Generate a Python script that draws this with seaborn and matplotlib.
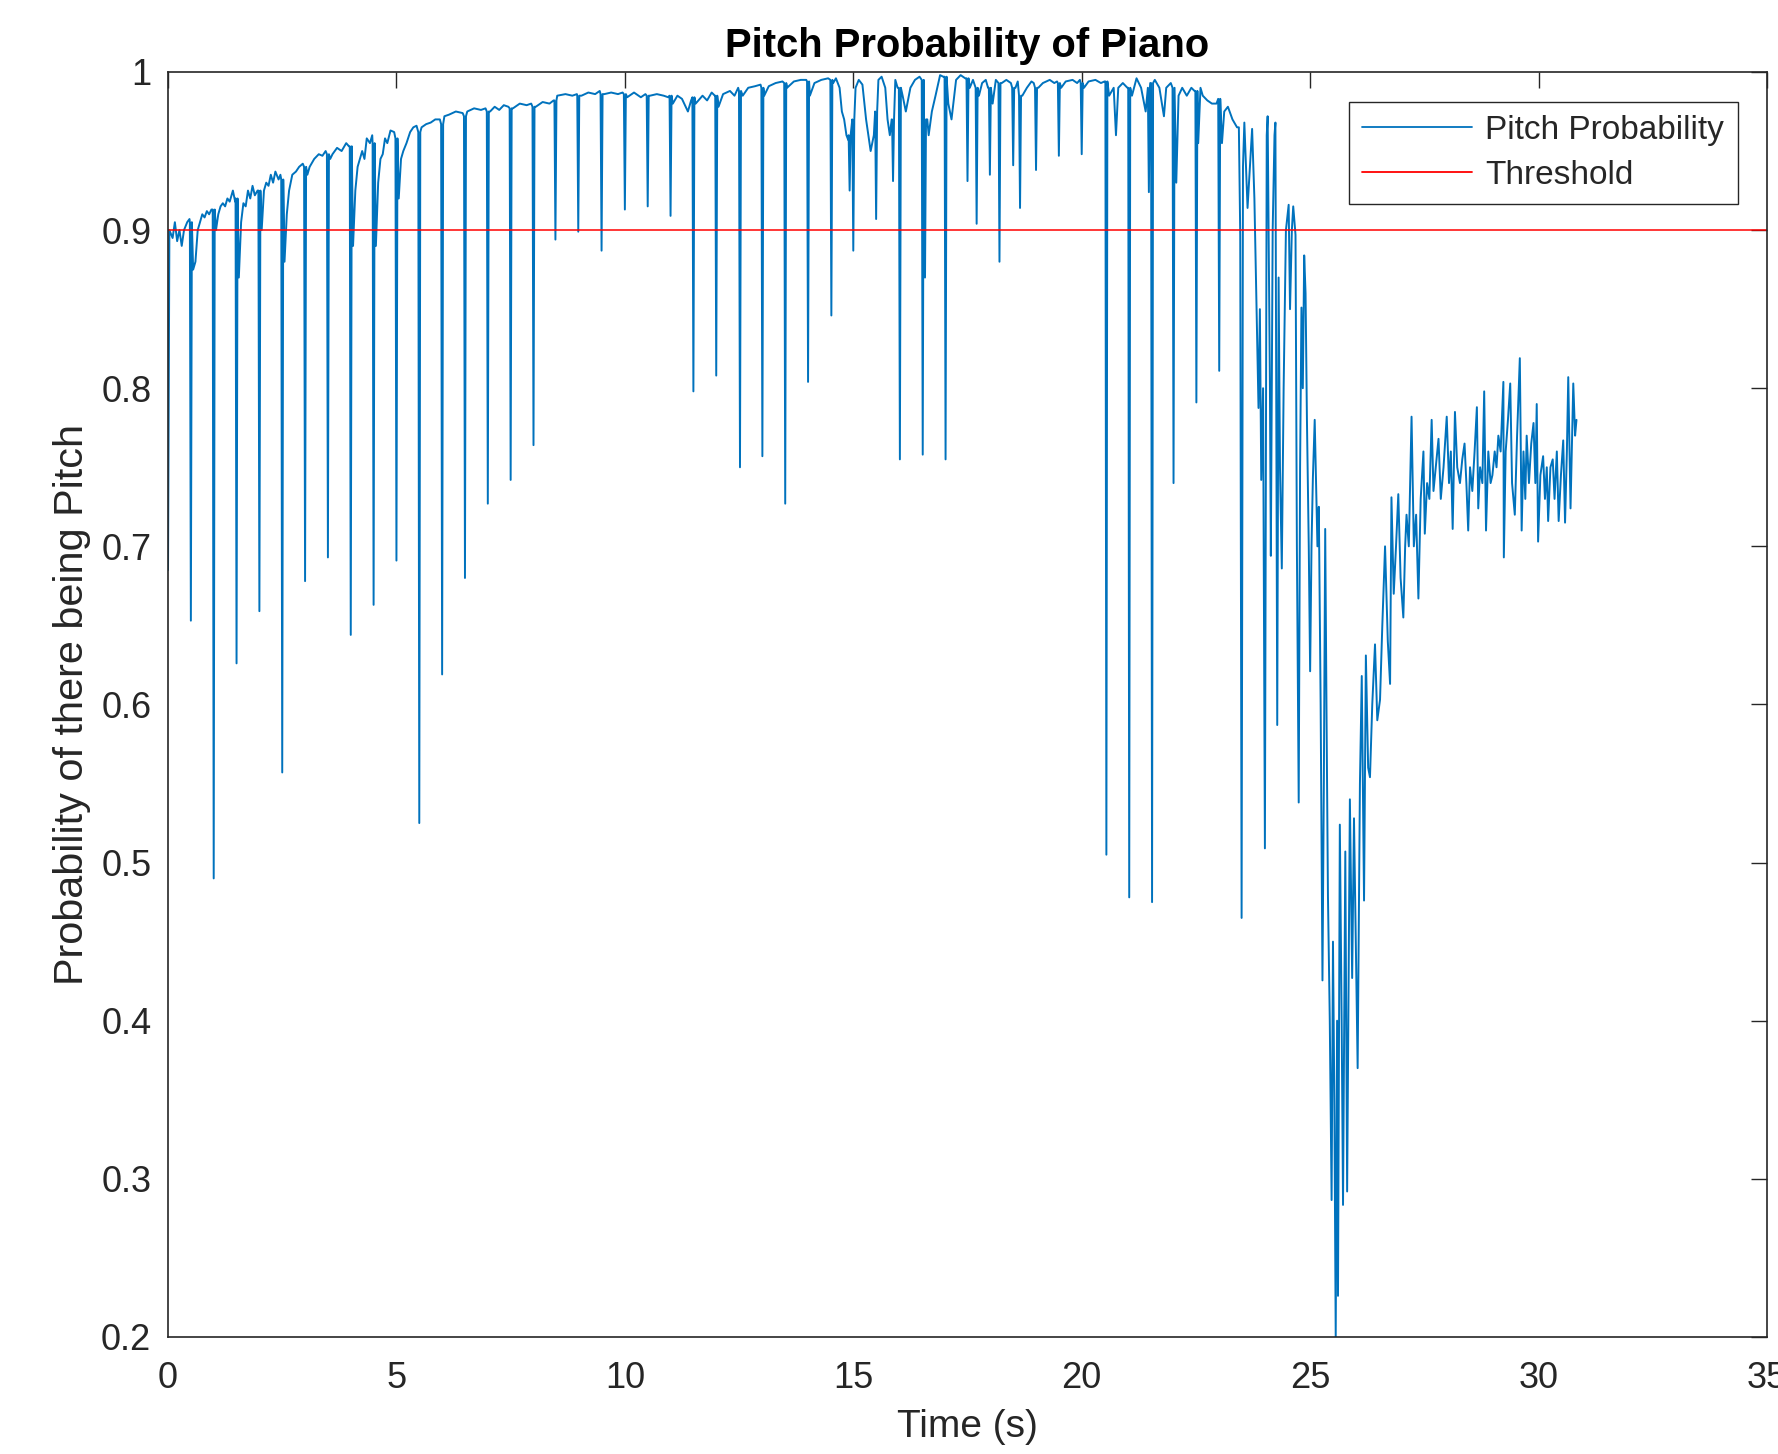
import numpy as np
import pandas as pd
import matplotlib
matplotlib.use("Agg")
import matplotlib.pyplot as plt
import seaborn as sns

# ---------------- data ----------------
# smooth "voiced" envelope (time in s, probability)
base_time = [
    0.0, 0.03, 0.1, 0.15, 0.2, 0.25, 0.3, 0.35, 0.42, 0.47,
    0.55, 0.6, 0.65, 0.7, 0.75, 0.8, 0.85, 0.9, 0.95,
    1.05, 1.1, 1.15, 1.2, 1.25, 1.3, 1.35, 1.42, 1.47,
    1.55, 1.6, 1.65, 1.7, 1.75, 1.8, 1.85, 1.9, 1.96,
    2.05, 2.1, 2.15, 2.2, 2.25, 2.3, 2.35, 2.42, 2.46,
    2.55, 2.6, 2.65, 2.72, 2.8, 2.87, 2.95,
    3.05, 3.1, 3.2, 3.3, 3.38, 3.45,
    3.55, 3.6, 3.7, 3.8, 3.9, 3.96,
    4.05, 4.1, 4.15, 4.25, 4.3, 4.35, 4.42, 4.47,
    4.55, 4.6, 4.65, 4.7, 4.75, 4.8, 4.87, 4.95,
    5.05, 5.1, 5.15, 5.22, 5.3, 5.37, 5.44,
    5.55, 5.65, 5.75, 5.85, 5.95,
    6.05, 6.15, 6.3, 6.45,
    6.55, 6.7, 6.85, 6.95,
    7.05, 7.15, 7.25, 7.35, 7.45,
    7.55, 7.7, 7.85, 7.95,
    8.05, 8.2, 8.35, 8.44,
    8.52, 8.7, 8.85, 8.95,
    9.05, 9.2, 9.35, 9.45,
    9.55, 9.7, 9.85, 9.95,
    10.05, 10.2, 10.35, 10.45,
    10.55, 10.7, 10.85, 10.95,
    11.05, 11.15, 11.25, 11.38, 11.45,
    11.55, 11.7, 11.8, 11.9, 11.97,
    12.05, 12.15, 12.3, 12.4, 12.48,
    12.58, 12.7, 12.85, 12.97,
    13.05, 13.15, 13.3, 13.45,
    13.55, 13.7, 13.85, 13.97,
    14.05, 14.15, 14.3, 14.45,
    14.56, 14.62, 14.7, 14.75, 14.8, 14.85, 14.89,
    15.05, 15.12, 15.2, 15.28, 15.33, 15.38, 15.45, 15.55, 15.62, 15.7, 15.75, 15.8, 15.84, 15.92, 15.97,
    16.08, 16.15, 16.25, 16.35, 16.45,
    16.62, 16.65, 16.72, 16.8, 16.9, 16.97,
    17.08, 17.15, 17.25, 17.35, 17.45,
    17.55, 17.62, 17.75, 17.82, 17.9, 17.95,
    18.05, 18.12, 18.25, 18.35, 18.45,
    18.55, 18.6, 18.7, 18.8, 18.9, 18.95,
    19.05, 19.15, 19.3, 19.4, 19.46,
    19.55, 19.65, 19.8, 19.9, 19.96,
    20.05, 20.15, 20.3, 20.42, 20.5,
    20.6, 20.7, 20.75, 20.8, 20.9, 21.0,
    21.1, 21.2, 21.3, 21.4, 21.5,
    21.6, 21.7, 21.8, 21.85, 21.95,
    22.07, 22.12, 22.2, 22.3, 22.4, 22.47,
    22.55, 22.6, 22.65, 22.75, 22.85, 22.95,
    23.07, 23.12, 23.2, 23.3, 23.4,
]
base_prob = [
    0.685, 0.90, 0.895, 0.905, 0.893, 0.90, 0.89, 0.90, 0.905, 0.907,
    0.875, 0.88, 0.90, 0.905, 0.91, 0.908, 0.912, 0.91, 0.913,
    0.90, 0.91, 0.915, 0.917, 0.915, 0.92, 0.918, 0.925, 0.918,
    0.87, 0.905, 0.917, 0.915, 0.925, 0.92, 0.928, 0.922, 0.925,
    0.90, 0.925, 0.93, 0.928, 0.935, 0.93, 0.937, 0.932, 0.935,
    0.88, 0.91, 0.925, 0.935, 0.937, 0.94, 0.942,
    0.935, 0.94, 0.945, 0.948, 0.947, 0.95,
    0.945, 0.948, 0.952, 0.95, 0.955, 0.953,
    0.89, 0.925, 0.94, 0.95, 0.945, 0.958, 0.955, 0.96,
    0.89, 0.93, 0.945, 0.948, 0.958, 0.955, 0.963, 0.962,
    0.92, 0.945, 0.95, 0.955, 0.962, 0.965, 0.966,
    0.965, 0.967, 0.968, 0.97, 0.97,
    0.972, 0.973, 0.975, 0.974,
    0.975, 0.977, 0.976, 0.977,
    0.975, 0.978, 0.976, 0.979, 0.978,
    0.977, 0.98, 0.979, 0.98,
    0.978, 0.981, 0.98, 0.982,
    0.985, 0.986, 0.985, 0.986,
    0.985, 0.987, 0.986, 0.988,
    0.986, 0.987, 0.986, 0.987,
    0.984, 0.987, 0.984, 0.986,
    0.985, 0.986, 0.985, 0.984,
    0.98, 0.985, 0.983, 0.975, 0.982,
    0.98, 0.985, 0.982, 0.987, 0.985,
    0.978, 0.986, 0.988, 0.985, 0.99,
    0.985, 0.99, 0.991, 0.992,
    0.985, 0.991, 0.993, 0.994,
    0.99, 0.994, 0.995, 0.995,
    0.985, 0.993, 0.995, 0.996,
    0.993, 0.996, 0.99, 0.975, 0.97, 0.96, 0.957,
    0.99, 0.995, 0.992, 0.97, 0.96, 0.95, 0.96, 0.995, 0.997, 0.99, 0.97, 0.96, 0.97, 0.995, 0.99,
    0.985, 0.975, 0.99, 0.995, 0.997,
    0.97, 0.96, 0.975, 0.985, 0.998, 0.997,
    0.98, 0.97, 0.995, 0.998, 0.996,
    0.99, 0.995, 0.985, 0.993, 0.995, 0.99,
    0.98, 0.995, 0.993, 0.995, 0.993,
    0.99, 0.994, 0.985, 0.99, 0.994, 0.993,
    0.99, 0.993, 0.995, 0.993, 0.994,
    0.99, 0.994, 0.995, 0.993, 0.995,
    0.99, 0.994, 0.995, 0.993, 0.994,
    0.985, 0.99, 0.96, 0.99, 0.993, 0.99,
    0.985, 0.996, 0.99, 0.975, 0.993,
    0.995, 0.99, 0.972, 0.99, 0.993,
    0.93, 0.985, 0.99, 0.985, 0.99, 0.988,
    0.955, 0.99, 0.985, 0.982, 0.98, 0.98,
    0.955, 0.975, 0.978, 0.97, 0.965,
]

# sharp unvoiced dips: time, level just before/after, minimum
dip_time = [0.5, 1.0, 1.5, 2.0, 2.5, 3.0, 3.5, 4.0, 4.5, 5.0, 5.5, 6.0, 6.5, 7.0,
            7.5, 8.0, 8.48, 8.98, 9.49, 10.0, 10.5, 11.0, 11.5, 12.0, 12.52, 13.01,
            13.51, 14.01, 14.52, 14.92, 15.0, 15.5, 15.87, 16.02, 16.52, 16.57, 17.02,
            17.5, 17.7, 17.99, 18.2, 18.5, 18.65, 19.0, 19.5, 20.0, 20.54, 21.04,
            21.47, 21.54, 22.01, 22.51, 23.01]
dip_top = [0.905, 0.913, 0.92, 0.925, 0.932, 0.94, 0.948, 0.953, 0.955, 0.958, 0.962,
           0.967, 0.972, 0.975, 0.977, 0.978, 0.982, 0.985, 0.986, 0.986, 0.985, 0.985,
           0.984, 0.985, 0.988, 0.99, 0.993, 0.994, 0.995, 0.96, 0.97, 0.975, 0.97,
           0.99, 0.995, 0.97, 0.997, 0.996, 0.99, 0.99, 0.993, 0.99, 0.985, 0.99,
           0.993, 0.993, 0.994, 0.99, 0.99, 0.993, 0.99, 0.988, 0.983]
dip_low = [0.653, 0.49, 0.626, 0.659, 0.557, 0.678, 0.693, 0.644, 0.663, 0.691, 0.525,
           0.619, 0.68, 0.727, 0.742, 0.764, 0.894, 0.899, 0.887, 0.913, 0.915, 0.909,
           0.798, 0.808, 0.750, 0.757, 0.727, 0.804, 0.846, 0.925, 0.887, 0.907, 0.931,
           0.755, 0.758, 0.87, 0.755, 0.931, 0.904, 0.935, 0.880, 0.941, 0.914, 0.938,
           0.947, 0.948, 0.505, 0.478, 0.924, 0.475, 0.740, 0.791, 0.811]

# noisy ending (breakdown and recovery)
tail_time = [
    23.44, 23.47, 23.5, 23.53, 23.56, 23.63, 23.73, 23.78, 23.83, 23.87, 23.9, 23.93, 23.97,
    24.01, 24.05, 24.07, 24.12, 24.14, 24.18, 24.22, 24.24, 24.28, 24.31, 24.34, 24.38,
    24.42, 24.47, 24.53, 24.56, 24.6, 24.63, 24.68, 24.71, 24.75, 24.78, 24.81, 24.84,
    24.87, 24.9, 24.93, 24.97, 25.0, 25.03, 25.06, 25.1, 25.13, 25.16, 25.19, 25.23,
    25.27, 25.3, 25.33, 25.36, 25.39, 25.43, 25.47, 25.5, 25.53, 25.56, 25.59, 25.61,
    25.65, 25.69, 25.72, 25.77, 25.81, 25.87, 25.92, 25.96, 26.0, 26.04, 26.09, 26.13,
    26.18, 26.22, 26.27, 26.31, 26.36, 26.42, 26.47, 26.53, 26.58, 26.64, 26.7, 26.75,
    26.78, 26.83, 26.88, 26.93, 26.98, 27.04, 27.08, 27.11, 27.16, 27.22, 27.27, 27.32,
    27.37, 27.42, 27.48, 27.51, 27.56, 27.61, 27.66, 27.7, 27.75, 27.81, 27.86, 27.92,
    27.99, 28.04, 28.08, 28.12, 28.17, 28.22, 28.28, 28.33, 28.38, 28.42, 28.46, 28.5,
    28.55, 28.6, 28.65, 28.68, 28.72, 28.77, 28.81, 28.85, 28.9, 28.95, 28.99, 29.04,
    29.08, 29.12, 29.17, 29.23, 29.24, 29.28, 29.33, 29.38, 29.42, 29.48, 29.53, 29.59,
    29.63, 29.67, 29.71, 29.74, 29.79, 29.84, 29.89, 29.93, 29.96, 29.99, 30.04, 30.1,
    30.14, 30.18, 30.21, 30.26, 30.31, 30.35, 30.4, 30.44, 30.49, 30.54, 30.58, 30.62,
    30.65, 30.7, 30.76, 30.8, 30.83,
]
tail_prob = [
    0.965, 0.897, 0.465, 0.94, 0.968, 0.914, 0.964, 0.92, 0.846, 0.7875, 0.85, 0.742, 0.80,
    0.509, 0.96, 0.972, 0.80, 0.694, 0.90, 0.96, 0.968, 0.587, 0.87, 0.75, 0.686,
    0.80, 0.90, 0.916, 0.85, 0.90, 0.915, 0.897, 0.70, 0.538, 0.75, 0.851, 0.80,
    0.884, 0.86, 0.78, 0.70, 0.621, 0.70, 0.743, 0.78, 0.74, 0.70, 0.725, 0.60,
    0.4255, 0.55, 0.711, 0.59, 0.479, 0.40, 0.2866, 0.45, 0.35, 0.20, 0.40, 0.226,
    0.524, 0.40, 0.2835, 0.507, 0.292, 0.54, 0.427, 0.528, 0.45, 0.37, 0.55, 0.618,
    0.476, 0.631, 0.56, 0.554, 0.60, 0.638, 0.59, 0.603, 0.65, 0.70, 0.64, 0.613,
    0.731, 0.67, 0.70, 0.733, 0.68, 0.655, 0.70, 0.72, 0.70, 0.782, 0.70, 0.72,
    0.667, 0.73, 0.76, 0.708, 0.74, 0.73, 0.78, 0.735, 0.75, 0.768, 0.73, 0.75,
    0.782, 0.74, 0.76, 0.711, 0.785, 0.75, 0.74, 0.755, 0.765, 0.74, 0.71, 0.75,
    0.735, 0.76, 0.788, 0.724, 0.75, 0.74, 0.798, 0.71, 0.76, 0.74, 0.745, 0.76,
    0.75, 0.77, 0.76, 0.804, 0.693, 0.76, 0.78, 0.803, 0.74, 0.72, 0.77, 0.819,
    0.71, 0.76, 0.73, 0.77, 0.74, 0.765, 0.778, 0.74, 0.79, 0.703, 0.745, 0.757,
    0.73, 0.75, 0.716, 0.75, 0.755, 0.73, 0.76, 0.716, 0.745, 0.767, 0.715, 0.76,
    0.807, 0.724, 0.803, 0.77, 0.78,
]

threshold = 0.9
x_ticks = [0, 5, 10, 15, 20, 25, 30, 35]
y_ticks = [0.2, 0.3, 0.4, 0.5, 0.6, 0.7, 0.8, 0.9, 1.0]
y_tick_labels = ["0.2", "0.3", "0.4", "0.5", "0.6", "0.7", "0.8", "0.9", "1"]

# ---------------- assemble the series ----------------
half_w = 0.022  # visual half-width of a dip (style)
dt = np.array(dip_time)
dip_t = np.column_stack([dt - half_w, dt, dt + half_w]).ravel()
dip_p = np.column_stack([dip_top, dip_low, dip_top]).ravel()

all_t = np.concatenate([np.array(base_time), dip_t, np.array(tail_time)])
all_p = np.concatenate([np.array(base_prob), dip_p, np.array(tail_prob)])
order = np.argsort(all_t, kind="stable")
df = pd.DataFrame({"Time": all_t[order], "Probability": all_p[order]})
thr_df = pd.DataFrame({"Time": [0, 35], "Probability": [threshold, threshold]})

# ---------------- style ----------------
sns.set_style("white")
plt.rcParams["font.family"] = ["Liberation Sans", "DejaVu Sans"]
axis_col = "#262626"

fig = plt.figure(figsize=(17.78, 14.54), dpi=100)
ax = fig.add_axes([0.0945, 0.0805, 0.9938 - 0.0945, 0.9505 - 0.0805])

sns.lineplot(data=df, x="Time", y="Probability", estimator=None, sort=False,
             color="#0072BD", linewidth=1.4, ax=ax, label="Pitch Probability")
sns.lineplot(data=thr_df, x="Time", y="Probability", estimator=None, sort=False,
             color="#FF0000", linewidth=1.1, ax=ax, label="Threshold")

ax.set_xlim(0, 35)
ax.set_ylim(0.2, 1.0)
ax.set_xticks(x_ticks)
ax.set_xticklabels([str(v) for v in x_ticks])
ax.set_yticks(y_ticks)
ax.set_yticklabels(y_tick_labels)

for s in ax.spines.values():
    s.set_visible(True)
    s.set_color(axis_col)
    s.set_linewidth(1.2)

ax.tick_params(axis="both", which="major", direction="in", length=11.5, width=1.0,
               colors=axis_col, labelsize=26, top=True, right=True)
ax.tick_params(axis="x", pad=17)
ax.tick_params(axis="y", pad=12)

ax.set_title("Pitch Probability of Piano", fontsize=28.8, fontweight="bold",
             color="black", pad=11)
ax.set_xlabel("Time (s)", fontsize=28, color=axis_col, labelpad=10)
ax.set_ylabel("Probability of there being Pitch", fontsize=29.8, color=axis_col, labelpad=7)

leg = ax.legend(loc="upper right", bbox_to_anchor=(1737.7 / 1778, 1 - 101.7 / 1454),
                bbox_transform=fig.transFigure, borderaxespad=0, fontsize=24,
                frameon=True, fancybox=False, framealpha=1, edgecolor=axis_col,
                handlelength=3.3, handletextpad=0.4, labelspacing=0.42, borderpad=0.4)
leg.get_frame().set_linewidth(1.0)
for line in leg.get_lines():
    line.set_linewidth(1.3)

fig.savefig("out.png", dpi=100)
